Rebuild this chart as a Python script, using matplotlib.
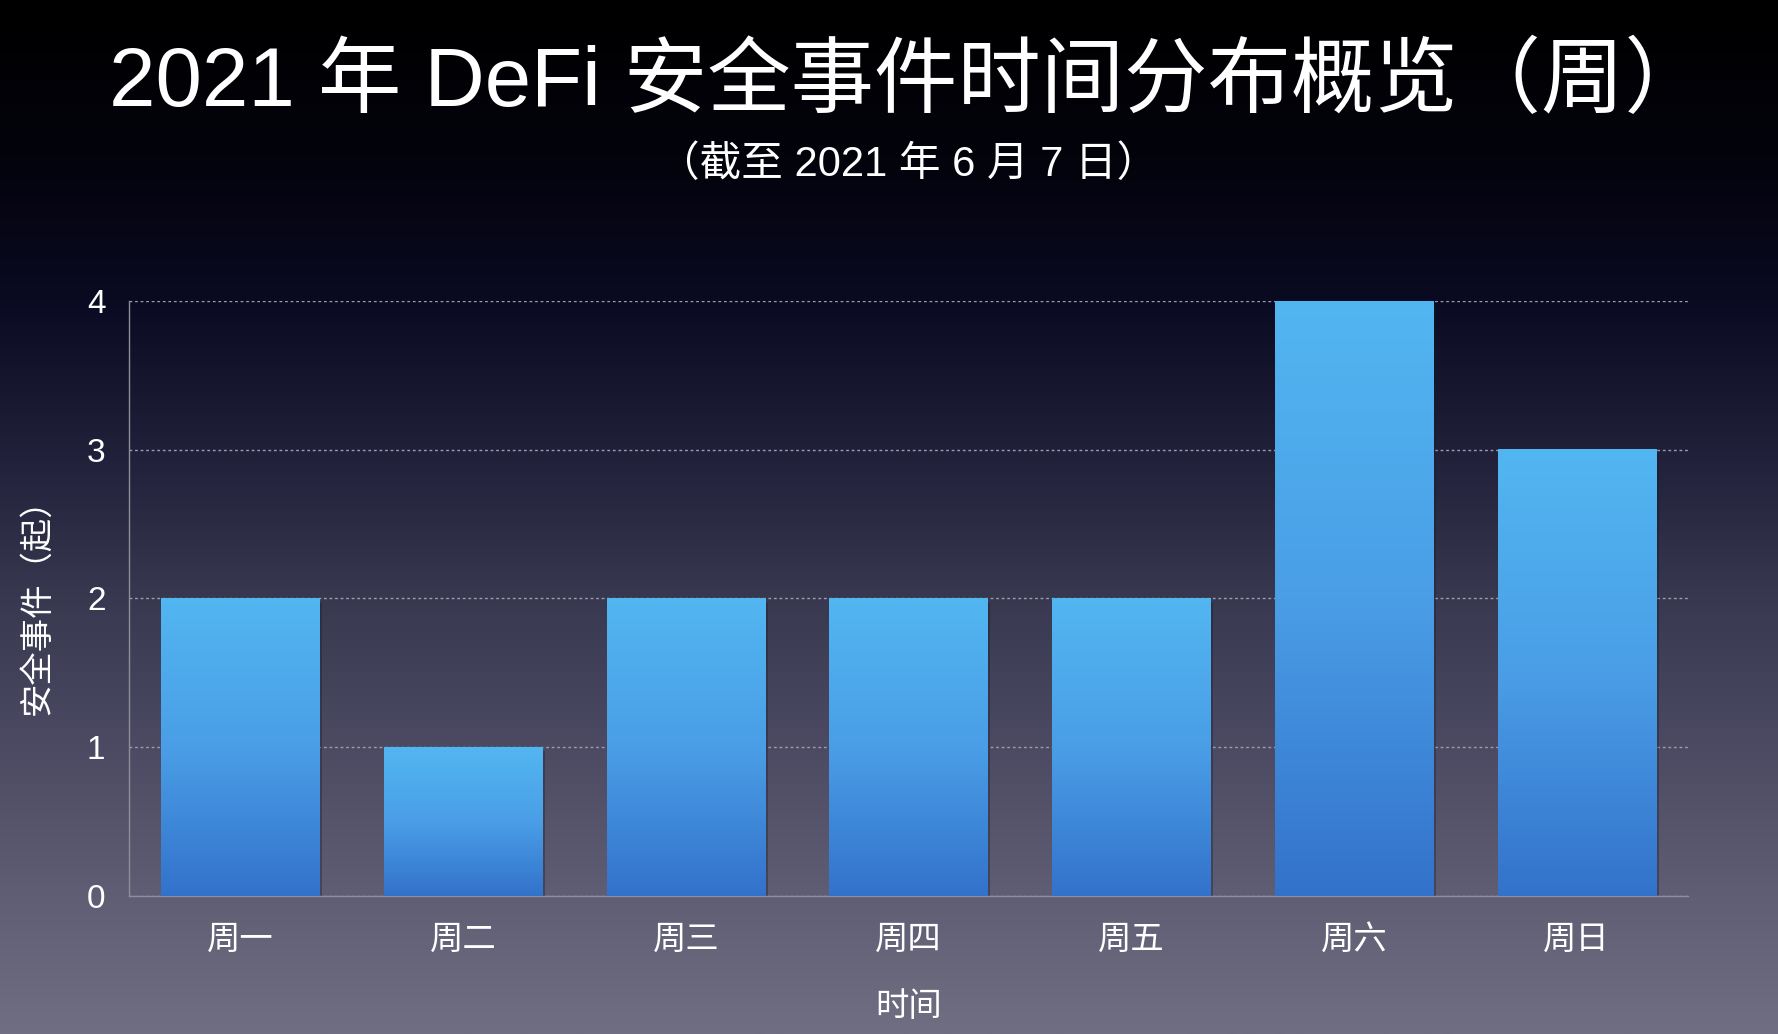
"""2021 DeFi security incidents by weekday, keynote-style bar chart."""
import numpy as np
import matplotlib
matplotlib.use('Agg')
import matplotlib.pyplot as plt
import matplotlib.patheffects as pe
from matplotlib.colors import LinearSegmentedColormap

plt.rcParams['font.family'] = ['Liberation Sans', 'Noto Sans CJK SC', 'DejaVu Sans']
plt.rcParams['axes.unicode_minus'] = False

# Data
days = ['周一', '周二', '周三', '周四', '周五', '周六', '周日']
counts = [2, 1, 2, 2, 2, 4, 3]
y_ticks = [0, 1, 2, 3, 4]

TITLE = '2021 年 DeFi 安全事件时间分布概览（周）'
SUBTITLE = '（截至 2021 年 6 月 7 日）'

fig = plt.figure(figsize=(17.78, 10.34), dpi=100)

# background gradient (black top -> grey-violet bottom)
bg = fig.add_axes([0, 0, 1, 1], zorder=0)
bg_cmap = LinearSegmentedColormap.from_list('bg', [
    (0.00, '#000000'),
    (0.15, '#03030c'),
    (0.29, '#0a0a22'),
    (0.45, '#22223c'),
    (0.58, '#383850'),
    (0.72, '#4b4a62'),
    (0.87, '#5f5e74'),
    (1.00, '#6f6e82'),
])
bg.imshow(np.linspace(0, 1, 512).reshape(-1, 1), aspect='auto', cmap=bg_cmap,
          extent=[0, 1, 0, 1], origin='upper')
bg.axis('off')

ax = fig.add_axes([0.0726, 0.1335, 0.8768, 0.5754], zorder=1)
ax.patch.set_alpha(0)

x = np.arange(len(days))
bars = ax.bar(x, counts, width=0.71, color='#3474cc', zorder=2)
for b in bars:
    b.set_path_effects([pe.SimplePatchShadow(offset=(2, -3), shadow_rgbFace='#1a1a28', alpha=0.35),
                        pe.Normal()])

# gradient fill for each bar
bar_cmap = LinearSegmentedColormap.from_list('bar', ['#3372cb', '#4a9ee6', '#52b6f1'])
grad = np.linspace(0, 1, 256).reshape(-1, 1)
for b in bars:
    x0, w, h = b.get_x(), b.get_width(), b.get_height()
    ax.imshow(grad, aspect='auto', cmap=bar_cmap, origin='lower',
              extent=[x0, x0 + w, 0, h], zorder=3, interpolation='bicubic')

ax.set_xlim(-0.5, len(days) - 0.5)
ax.set_ylim(0, 4)
ax.set_yticks(y_ticks)
ax.set_xticks(x)
ax.set_xticklabels(days)

ax.grid(axis='y', linestyle=(0, (2, 2)), color='#9c9cab', linewidth=1, zorder=1)
ax.set_axisbelow(True)
for s in ['top', 'right']:
    ax.spines[s].set_visible(False)
ax.spines['left'].set_color('#8e8e9a')
ax.spines['bottom'].set_color('#8e8e9a')
ax.spines['left'].set_linewidth(1)
ax.spines['bottom'].set_linewidth(1)

ax.tick_params(axis='both', length=0, labelcolor='white', labelsize=24)
ax.tick_params(axis='x', pad=21)
ax.tick_params(axis='y', pad=17)

ax.set_xlabel('时间', color='white', fontsize=24, labelpad=26)
ax.set_ylabel('安全事件（起）', color='white', fontsize=24, labelpad=24)

fig.text(0.511, 0.919, TITLE, ha='center', va='center', color='white', fontsize=60)
fig.text(0.511, 0.840, SUBTITLE, ha='center', va='center', color='white', fontsize=30)

fig.savefig('out.png', dpi=100)
